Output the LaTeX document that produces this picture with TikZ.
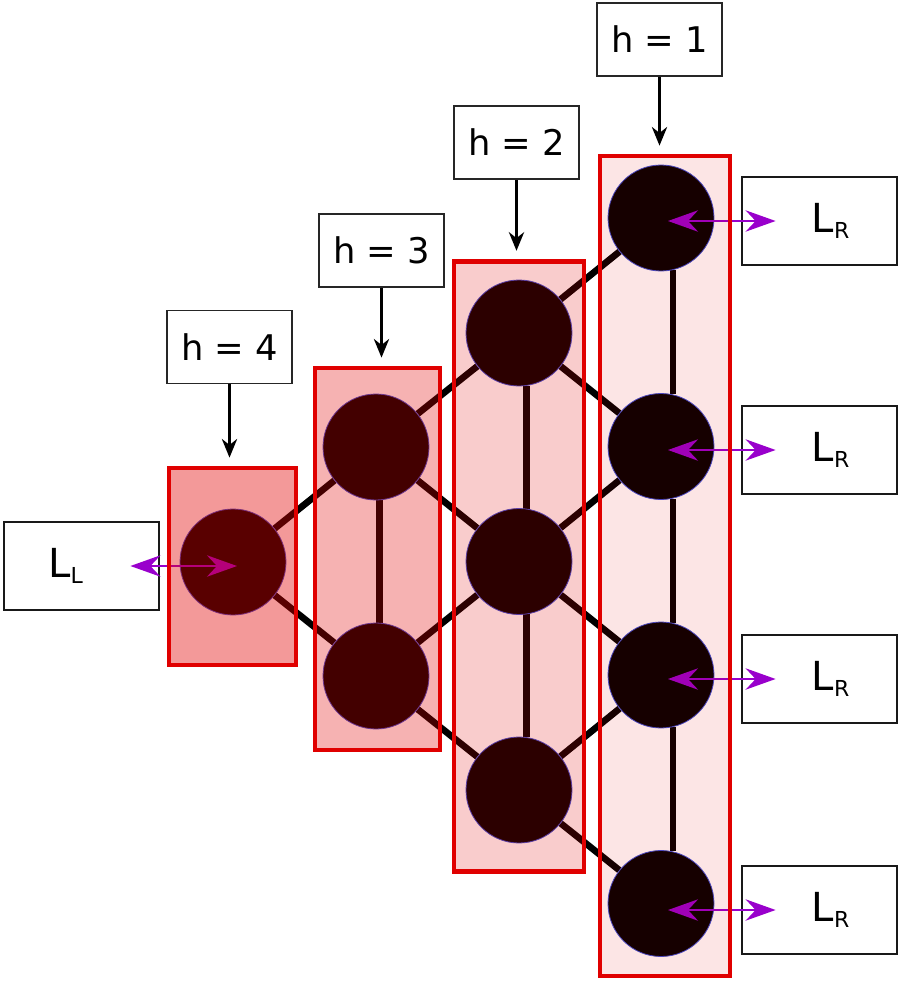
\documentclass[tikz,border=0pt]{standalone}
\usepackage{fontspec}
\setmainfont{DejaVu Sans}
\usetikzlibrary{arrows.meta,calc,backgrounds}

\definecolor{boxred}{RGB}{224,0,0}
\definecolor{swappurple}{RGB}{153,0,204}
\definecolor{rimblue}{RGB}{60,80,210}

\newcommand{\lead}[1]{L\raisebox{-5pt}{\fontsize{16.5}{18}\selectfont #1}}

\begin{document}
\begin{tikzpicture}[x=0.75pt,y=-0.75pt,
    site/.style={circle,fill=black,draw=rimblue,line width=0.6pt,minimum size=79.5pt,inner sep=0pt},
    bond/.style={line width=5pt},
    layer/.style={rectangle,draw=boxred,fill=boxred,line width=3.6pt,inner sep=0pt},
    hbox/.style={draw=black!85,line width=1.2pt,minimum width=93.75pt,minimum height=54.75pt,inner sep=0pt,font=\fontsize{26.5}{30}\selectfont},
    lbox/.style={draw=black!90,line width=2.1pt,minimum width=116.25pt,minimum height=66pt,inner sep=0pt,font=\fontsize{30}{36}\selectfont},
    drop/.style={line width=1.6pt,->,>={Stealth[length=14pt,width=11.5pt,inset=4.5pt]}},
    swap/.style={draw=swappurple,line width=1.6pt,<->,>={Stealth[length=22.5pt,width=16pt,inset=7.5pt]}}]

    \useasboundingbox (0,0) rectangle (913,981);

    %SITES, column by column (h = 1 on the right)
    \foreach \i in {1,...,4} \node[site] (a\i) at (661,{218+228.5*(\i-1)}) {};
    \foreach \i in {1,...,3} \node[site] (b\i) at (519,{333+228.5*(\i-1)}) {};
    \foreach \i in {1,2}     \node[site] (c\i) at (376,{447+229*(\i-1)}) {};
    \node[site] (d1) at (233,562) {};

    %BONDS (behind the sites)
    \begin{scope}[on background layer]
        \foreach \u/\v in {d1/c1,d1/c2,c1/b1,c1/b2,c2/b2,c2/b3,
                           b1/a1,b1/a2,b2/a2,b2/a3,b3/a3,b3/a4}
            \draw[bond] (\u) -- (\v);
        \draw[bond] (c1.-86) -- (c2.86);
        \foreach \i/\j in {1/2,2/3} \draw[bond] (b\i.-82) -- (b\j.82);
        \foreach \i/\j in {1/2,2/3,3/4} \draw[bond] (a\i.-77.5) -- (a\j.77.5);
    \end{scope}

    %LEADS
    \node[lbox] (LL) at (81.5,566) {\lead{L}\hspace*{24pt}};
    \foreach \i/\y in {1/221,2/450,3/679,4/910}
        \node[lbox] (R\i) at (819.5,\y) {\hspace*{16.5pt}\lead{R}};
    \draw[swap] ($(LL.east)+(-30,0)$) -- ($(d1 |- LL)+(4,0)$);
    \foreach \i in {1,...,4}
        \draw[swap] ($(a\i |- R\i)+(7,0)$) -- ($(R\i.west)+(35,0)$);

    %LAYERS (translucent, over sites and bonds)
    \node[layer,fill opacity=0.1,minimum width=97.5pt,minimum height=615pt]  (r1) at (665,566)   {};
    \node[layer,fill opacity=0.2,minimum width=97.5pt,minimum height=458pt]  (r2) at (519,566.5) {};
    \node[layer,fill opacity=0.3,minimum width=93.75pt,minimum height=286.5pt] (r3) at (377.5,559) {};
    \node[layer,fill opacity=0.4,minimum width=95.25pt,minimum height=147.75pt] (r4) at (232.5,566.5) {};

    %LABELS h
    \foreach \i/\x/\y in {1/659.5/39.5,2/516.5/142.5,3/381.5/250.5,4/229.5/347}{
        \node[hbox] (h\i) at (\x,\y) {h = \i};
        \draw[drop] (h\i.south) -- ($(h\i.south |- r\i.north)+(0,-8)$);
    }
\end{tikzpicture}
\end{document}
